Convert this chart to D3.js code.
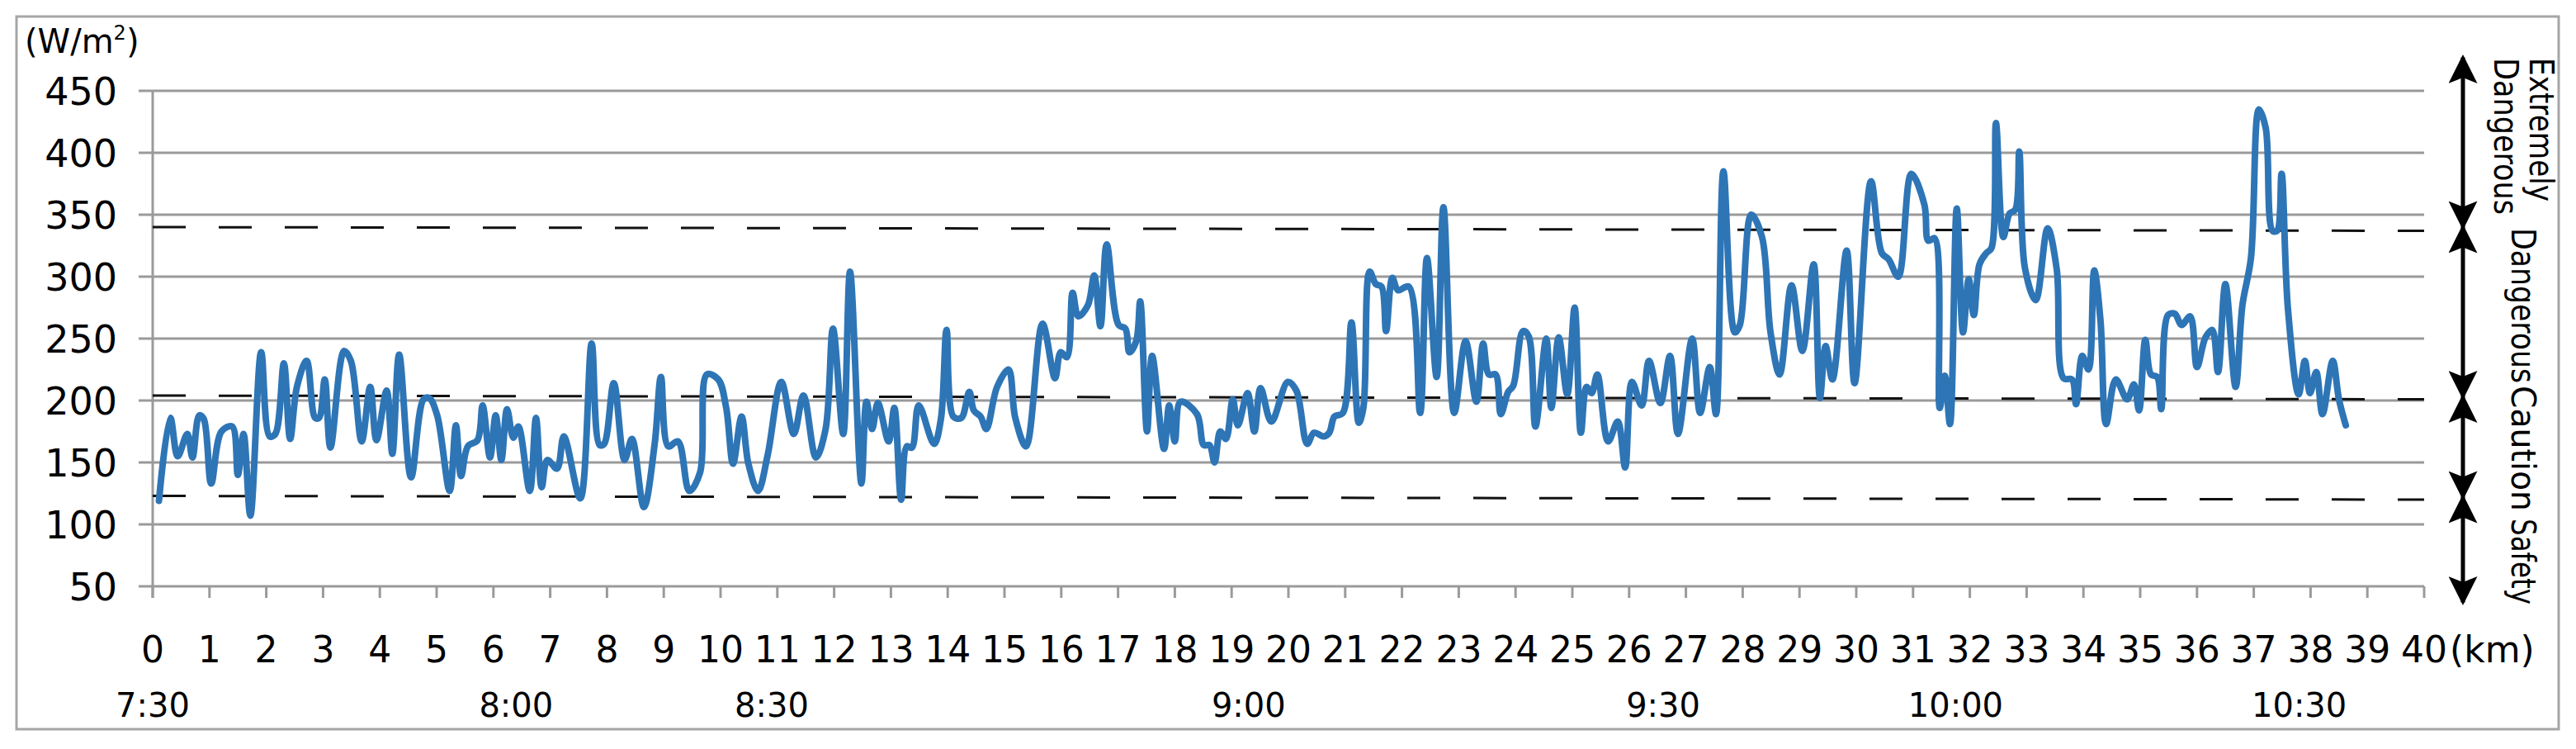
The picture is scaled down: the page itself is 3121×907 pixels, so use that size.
<!DOCTYPE html>
<html>
<head>
<meta charset="utf-8">
<script src="https://cdn.jsdelivr.net/npm/d3@7"></script>
<style>
  body { margin: 0; background: #fff; }
  text { font-family: "DejaVu Sans", Verdana, sans-serif; }
</style>
</head>
<body>
<svg id="chart" width="3121" height="907"></svg>
<script>
// distance (km) and solar radiation (W/m2)
let km = [0.11,0.31,0.44,0.61,0.70,0.82,0.90,1.03,1.21,1.40,1.50,1.60,1.72,1.91,2.06,2.16,2.31,2.42,2.54,2.71,2.86,2.93,3.03,3.13,3.37,3.49,3.68,3.83,3.94,4.12,4.22,4.34,4.55,4.77,4.87,5.01,5.23,5.34,5.43,5.55,5.72,5.81,5.94,6.04,6.14,6.24,6.35,6.44,6.64,6.75,6.85,
  6.95,7.12,7.24,7.53,7.73,7.87,7.95,8.12,8.31,8.44,8.65,8.84,8.95,9.08,9.25,9.45,9.64,9.76,9.96,10.10,10.22,10.37,10.49,10.66,10.83,11.07,11.29,11.46,11.68,11.85,11.98,12.16,12.28,12.48,12.57,12.67,12.77,12.96,13.06,13.18,13.28,13.37,13.49,
  13.76,13.88,13.98,14.10,14.24,14.38,14.46,14.58,14.68,14.87,15.07,15.19,15.38,15.67,15.89,15.99,16.10,16.20,16.30,16.47,16.58,16.69,16.80,17.01,17.13,17.20,17.32,17.39,17.51,17.60,17.81,17.90,18.00,18.10,18.39,18.51,18.61,18.70,18.80,18.90,19.02,19.11,19.28,19.40,19.51,19.70,19.99,20.14,
  20.33,20.45,20.62,20.72,20.81,20.96,21.11,21.24,21.32,21.43,21.54,21.64,21.72,21.83,21.93,22.12,22.32,22.44,22.61,22.73,22.92,23.12,23.31,23.43,23.53,23.65,23.74,23.87,23.96,24.13,24.23,24.35,24.54,24.63,24.76,24.91,25.04,25.15,25.25,25.34,25.44,25.63,25.80,25.93,26.05,26.22,26.35,26.55,26.72,26.86,
  27.11,27.25,27.42,27.53,27.66,27.86,27.95,28.15,28.34,28.49,28.65,28.86,29.05,29.25,29.36,29.46,29.58,29.83,29.97,30.26,30.45,30.57,30.74,30.97,31.20,31.27,31.38,31.47,31.56,31.65,31.77,31.88,31.98,32.07,32.17,32.29,32.38,32.46,32.59,32.70,32.80,32.87,32.97,33.16,33.37,33.53,
  33.65,33.80,33.87,33.98,34.09,34.19,34.30,34.40,34.57,34.77,34.89,34.98,35.09,35.19,35.30,35.37,35.49,35.61,35.73,35.88,36.00,36.15,36.27,36.37,36.50,36.68,36.80,36.95,37.09,37.21,37.33,37.41,37.49,37.60,37.79,37.90,37.99,38.10,38.21,38.39,38.50,38.62]
let radiation = [119,186,155,173,154,188,185,133,175,179,140,173,107,239,171,173,230,169,211,232,186,186,217,162,240,232,167,211,168,208,157,237,138,201,202,188,127,180,139,163,168,196,154,188,152,193,170,179,127,186,130,
  152,145,171,121,246,164,165,214,152,169,114,165,219,163,167,127,142,221,217,194,149,187,149,127,156,215,173,204,154,177,258,173,304,133,199,177,198,167,194,120,163,162,196,
  165,185,257,187,186,207,192,187,177,211,225,186,163,262,218,239,235,287,268,277,301,260,326,261,258,239,248,280,175,236,161,196,167,199,189,164,164,150,175,169,201,180,206,175,210,183,215,208,
  165,174,171,174,187,190,263,182,194,304,294,292,256,299,289,292,190,315,219,356,190,248,199,246,221,221,189,207,212,256,252,179,250,194,251,205,275,174,211,206,221,167,183,146,215,196,232,198,236,173,
  250,190,227,189,385,255,261,350,332,255,221,293,240,310,202,244,217,321,214,377,319,314,300,383,358,329,331,194,220,181,355,255,298,269,310,319,323,424,332,351,354,401,307,281,339,306,
  218,217,197,236,225,305,265,181,217,201,213,192,249,221,219,193,269,270,261,268,227,251,257,223,294,211,277,315,435,420,337,337,383,275,205,232,206,223,189,232,201,180]

let yTicks = [50, 100, 150, 200, 250, 300, 350, 400, 450]
let xTicks = d3.range(0, 41)
let timeLabels = ['7:30', '8:00', '8:30', '9:00', '9:30', '10:00', '10:30']
let timeKm = [0, 6.4, 10.9, 19.3, 26.6, 31.75, 37.8]
// dashed threshold lines: value at left and right end
let thresholdLeft = [340, 204, 123]
let thresholdRight = [337, 201, 120]
let zoneNames = ['Dangerous', 'Caution', 'Safety']
let zoneBounds = [477, 340, 203, 122, 37]

let svg = d3.select('#chart')

svg.append('rect')
  .attr('x', 20).attr('y', 20).attr('width', 3080).attr('height', 863)
  .attr('fill', 'none').attr('stroke', '#a6a6a6').attr('stroke-width', 3)

let x = d3.scaleLinear().domain([0, 40]).range([185, 2937])
let y = d3.scaleLinear().domain([50, 450]).range([710, 110])

// gridlines + y labels
svg.append('g')
  .selectAll('line')
  .data(yTicks)
  .join('line')
  .attr('x1', 168).attr('x2', x(40))
  .attr('y1', d => y(d)).attr('y2', d => y(d))
  .attr('stroke', '#9a9a9a').attr('stroke-width', 3)

svg.append('g')
  .selectAll('text')
  .data(yTicks)
  .join('text')
  .attr('x', 142).attr('y', d => y(d) + 17)
  .attr('text-anchor', 'end')
  .attr('font-size', 46)
  .text(d => d)

let unit = svg.append('text').attr('x', 30).attr('y', 64).attr('font-size', 40)
unit.append('tspan').text('(W/m')
unit.append('tspan').attr('font-size', 24).attr('dy', -16).text('2')
unit.append('tspan').attr('dy', 16).text(')')

// x axis
svg.append('line')
  .attr('x1', x(0)).attr('x2', x(0)).attr('y1', y(450)).attr('y2', y(50) + 14)
  .attr('stroke', '#9a9a9a').attr('stroke-width', 3)

svg.append('g')
  .selectAll('line')
  .data(xTicks)
  .join('line')
  .attr('x1', d => x(d)).attr('x2', d => x(d))
  .attr('y1', y(50)).attr('y2', y(50) + 14)
  .attr('stroke', '#9a9a9a').attr('stroke-width', 3)

svg.append('g')
  .selectAll('text')
  .data(xTicks)
  .join('text')
  .attr('x', d => x(d)).attr('y', 802)
  .attr('text-anchor', 'middle')
  .attr('font-size', 44)
  .text(d => d)

svg.append('text').attr('x', 2968).attr('y', 802).attr('font-size', 44).text('(km)')

svg.append('g')
  .selectAll('text')
  .data(timeLabels)
  .join('text')
  .attr('x', (d, i) => x(timeKm[i])).attr('y', 868)
  .attr('text-anchor', 'middle')
  .attr('font-size', 40)
  .text(d => d)

// dashed threshold lines
svg.append('g')
  .selectAll('line')
  .data(thresholdLeft)
  .join('line')
  .attr('x1', x(0)).attr('x2', x(40))
  .attr('y1', d => y(d)).attr('y2', (d, i) => y(thresholdRight[i]))
  .attr('stroke', '#111').attr('stroke-width', 3)
  .attr('stroke-dasharray', '40 40')

// data line
let line = d3.line()
  .x((d, i) => x(km[i]))
  .y(d => y(d))
  .curve(d3.curveCatmullRom.alpha(0.5))

svg.append('path')
  .datum(radiation)
  .attr('d', line)
  .attr('fill', 'none')
  .attr('stroke', '#2e75b6')
  .attr('stroke-width', 8)
  .attr('stroke-linejoin', 'round')
  .attr('stroke-linecap', 'round')

// zone arrows
let defs = svg.append('defs')
defs.append('marker').attr('id', 'head')
  .attr('viewBox', '0 0 10 10').attr('refX', 9).attr('refY', 5)
  .attr('markerWidth', 7.5).attr('markerHeight', 7).attr('markerUnits', 'strokeWidth')
  .attr('orient', 'auto-start-reverse')
  .append('path').attr('d', 'M0,0 L10,5 L0,10 L2,5 Z').attr('fill', '#000')

let ax = 2984
svg.append('g')
  .selectAll('line')
  .data(zoneBounds.slice(0, 4))
  .join('line')
  .attr('x1', ax).attr('x2', ax)
  .attr('y1', d => y(d)).attr('y2', (d, i) => y(zoneBounds[i + 1]))
  .attr('stroke', '#000').attr('stroke-width', 5)
  .attr('marker-start', 'url(#head)').attr('marker-end', 'url(#head)')

function vtext(bx, top, str, len) {
  svg.append('text')
    .attr('transform', `translate(${bx},${top}) rotate(90)`)
    .attr('font-family', '"Liberation Sans", Arial, sans-serif')
    .attr('font-size', 40)
    .attr('textLength', len)
    .attr('lengthAdjust', 'spacingAndGlyphs')
    .text(str)
}
vtext(3065, 70, 'Extremely', 174)
vtext(3022, 70, 'Dangerous', 190)
let zoneTops = [276, 467, 628]
let zoneLens = [188, 152, 104]
zoneNames.forEach((n, i) => vtext(3043, zoneTops[i], n, zoneLens[i]))
</script>
</body>
</html>
